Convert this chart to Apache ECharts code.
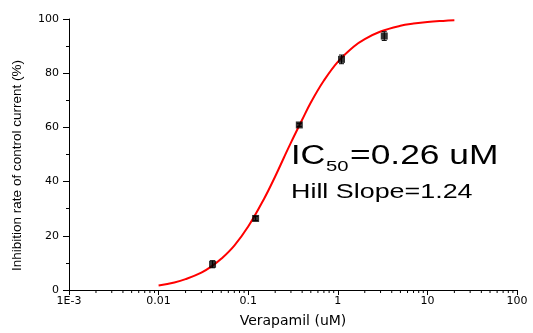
<!DOCTYPE html>
<html>
<head>
<meta charset="utf-8">
<script src="https://cdn.jsdelivr.net/npm/echarts@6/dist/echarts.min.js"></script>
<style>html,body{margin:0;padding:0;background:#fff}#c{width:533px;height:333px}</style>
</head>
<body>
<div id="c"></div>
<script>
// Measured data points (concentration uM, inhibition %, error)
var conc = [0.040, 0.121, 0.372, 1.10, 3.30];
var inhib = [9.5, 26.4, 60.9, 85.1, 93.7];
var errs = [1.3, 0.8, 0.6, 1.6, 1.6];
// Fitted curve
var curveX = [0.01, 0.015, 0.02, 0.03, 0.04, 0.05, 0.07, 0.1, 0.15, 0.2, 0.25, 0.3, 0.4, 0.5, 0.7, 1, 1.5, 2, 3, 5, 7, 10, 15, 20];
var curveY = [1.7, 2.8, 4.0, 6.4, 9.0, 11.5, 16.4, 23.4, 33.6, 41.9, 48.8, 54.4, 62.8, 69.2, 77.3, 84.2, 89.8, 92.6, 95.4, 97.5, 98.3, 98.9, 99.3, 99.5];
var xTickLabels = ['1E-3', '0.01', '0.1', '1', '10', '100'];
var xDecades = [0.001, 0.01, 0.1, 1, 10];
var minorMult = [2, 3, 4, 5, 6, 7, 8, 9];

var minorTicks = [];
xDecades.forEach(function (d) { minorMult.forEach(function (m) { minorTicks.push([d * m, 0]); }); });

var chart = echarts.init(document.getElementById('c'), null, {renderer: 'canvas'});
var font = 'Liberation Sans, Arial, sans-serif';
var wide = 'DejaVu Sans, sans-serif';
chart.setOption({
  animation: false,
  backgroundColor: '#fff',
  grid: {left: 69, right: 16, top: 19, bottom: 43},
  xAxis: {
    type: 'log', logBase: 10, min: 0.001, max: 100,
    name: 'Verapamil (uM)', nameLocation: 'middle', nameGap: 24,
    nameTextStyle: {fontFamily: wide, fontSize: 14, color: '#000'},
    axisLine: {show: true, lineStyle: {color: '#000', width: 1}},
    axisTick: {show: true, inside: false, length: 5, lineStyle: {color: '#000'}},
    minorTick: {show: false},
    splitLine: {show: false},
    axisLabel: {fontFamily: wide, fontSize: 11, color: '#000', margin: 6,
      formatter: function (v) { return xTickLabels[Math.round(Math.log10(v)) + 3]; }}
  },
  yAxis: {
    type: 'value', min: 0, max: 100, interval: 20,
    name: 'Inhibition rate of control current (%)', nameLocation: 'middle', nameGap: 45,
    nameTextStyle: {fontFamily: font, fontSize: 13.5, color: '#000', padding: [0, 22, 0, 0]},
    axisLine: {show: true, lineStyle: {color: '#000', width: 1}},
    axisTick: {show: true, inside: false, length: 6, lineStyle: {color: '#000'}},
    minorTick: {show: true, splitNumber: 2, length: 3, lineStyle: {color: '#000'}},
    splitLine: {show: false},
    axisLabel: {fontFamily: wide, fontSize: 11, color: '#000', margin: 10}
  },
  series: [
    {
      type: 'line', data: curveX.map(function (x, i) { return [x, curveY[i]]; }),
      smooth: 0.4, showSymbol: false, symbol: 'none',
      lineStyle: {color: '#ff0000', width: 2}, z: 3
    },
    {
      type: 'custom',
      data: conc.map(function (x, i) { return [x, inhib[i], errs[i]]; }),
      renderItem: function (params, api) {
        var x = api.value(0), y = api.value(1), e = api.value(2);
        var hi = api.coord([x, y + e]), lo = api.coord([x, y - e]);
        var w = 2.5;
        return {type: 'group', children: [
          {type: 'line', shape: {x1: hi[0], y1: hi[1], x2: lo[0], y2: lo[1]}, style: {stroke: '#000', lineWidth: 1}},
          {type: 'line', shape: {x1: hi[0] - w, y1: hi[1], x2: hi[0] + w, y2: hi[1]}, style: {stroke: '#000', lineWidth: 1}},
          {type: 'line', shape: {x1: lo[0] - w, y1: lo[1], x2: lo[0] + w, y2: lo[1]}, style: {stroke: '#000', lineWidth: 1}}
        ]};
      },
      z: 4
    },
    {
      type: 'scatter', data: conc.map(function (x, i) { return [x, inhib[i]]; }),
      symbol: 'rect', symbolSize: 7, itemStyle: {color: '#000'}, z: 5
    },
    {
      type: 'custom', data: minorTicks, clip: false, silent: true,
      renderItem: function (params, api) {
        var p = api.coord([api.value(0), 0]);
        return {type: 'line', shape: {x1: p[0], y1: p[1], x2: p[0], y2: p[1] + 3}, style: {stroke: '#000', lineWidth: 1}};
      },
      z: 2
    }
  ],
  graphic: [
    {type: 'text', x: 291, y: 157, scaleX: 1.27, style: {text: 'IC', fontFamily: font, fontSize: 27, fill: '#000', align: 'left', verticalAlign: 'middle'}},
    {type: 'text', x: 326, y: 167, scaleX: 1.35, style: {text: '50', fontFamily: font, fontSize: 15, fill: '#000', align: 'left', verticalAlign: 'middle'}},
    {type: 'text', x: 350, y: 157, scaleX: 1.31, style: {text: '=0.26 uM', fontFamily: font, fontSize: 27, fill: '#000', align: 'left', verticalAlign: 'middle'}},
    {type: 'text', x: 291, y: 192, scaleX: 1.28, style: {text: 'Hill Slope=1.24', fontFamily: font, fontSize: 21, fill: '#000', align: 'left', verticalAlign: 'middle'}}
  ]
});
</script>
</body>
</html>
